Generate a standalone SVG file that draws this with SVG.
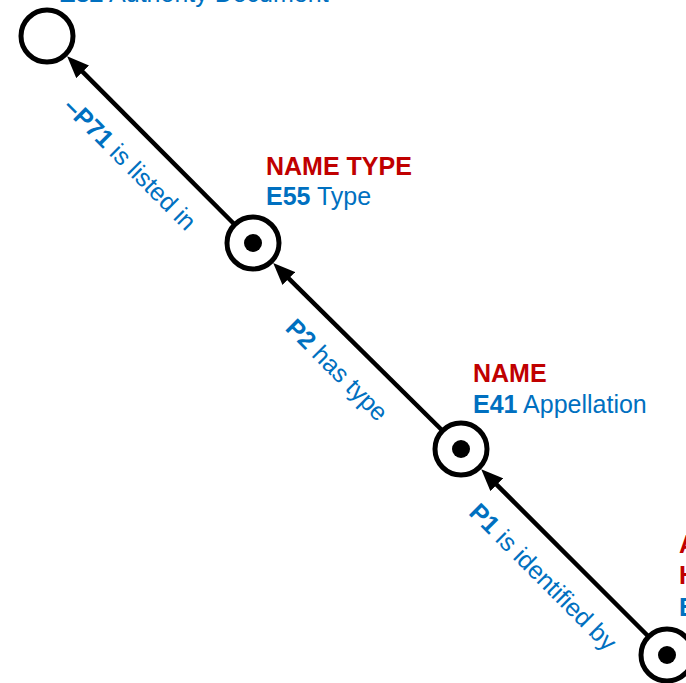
<svg xmlns="http://www.w3.org/2000/svg" width="686" height="683" viewBox="0 0 686 683">
<defs>
<style>
.ring{fill:#fff;stroke:#000;stroke-width:5}
.dot{fill:#000}
.edge{stroke:#000;stroke-width:4.5;fill:none;marker-end:url(#arr)}
text{font-family:"Liberation Sans",Arial,sans-serif;font-size:25px}
.red{fill:#C00000;font-weight:bold}
.blue{fill:#0070C0}
.b{font-weight:bold}
</style>
<marker id="arr" markerUnits="userSpaceOnUse" markerWidth="22" markerHeight="18" refX="12" refY="9" orient="auto">
<path d="M0,0 L22,9 L0,18 z" fill="#000"/>
</marker>
</defs>
<g id="connectors">
<line class="edge" x1="253" y1="243" x2="74.2" y2="63.3"/>
<line class="edge" x1="461" y1="449" x2="280.3" y2="270.1"/>
<line class="edge" x1="667" y1="655" x2="488.3" y2="476.3"/>
<text class="blue" transform="translate(124,170) rotate(45)" text-anchor="middle"><tspan class="b">–P71</tspan> is listed in</text>
<text class="blue" transform="translate(331,376) rotate(45)" text-anchor="middle"><tspan class="b">P2</tspan> has type</text>
<text class="blue" transform="translate(537,583) rotate(45)" text-anchor="middle"><tspan class="b">P1</tspan> is identified by</text>
</g>
<g id="node-authority-document">
<circle class="ring" cx="47" cy="36" r="26"/>
<text class="blue" x="59" y="2"><tspan class="b">E32</tspan> Authority Document</text>
</g>
<g id="node-name-type">
<circle class="ring" cx="253" cy="243" r="26"/>
<circle class="dot" cx="253" cy="243" r="9"/>
<text class="red" x="266" y="175">NAME TYPE</text>
<text class="blue" x="266" y="205"><tspan class="b">E55</tspan> Type</text>
</g>
<g id="node-name">
<circle class="ring" cx="461" cy="449" r="26"/>
<circle class="dot" cx="461" cy="449" r="9"/>
<text class="red" x="473" y="382">NAME</text>
<text class="blue" x="473" y="413"><tspan class="b">E41</tspan> Appellation</text>
</g>
<g id="node-a">
<circle class="ring" cx="667" cy="655" r="26"/>
<circle class="dot" cx="667" cy="655" r="9"/>
<text class="red" x="679" y="553">A</text>
<text class="red" x="679" y="584">H</text>
<text class="blue b" x="679" y="616">E</text>
</g>
</svg>
